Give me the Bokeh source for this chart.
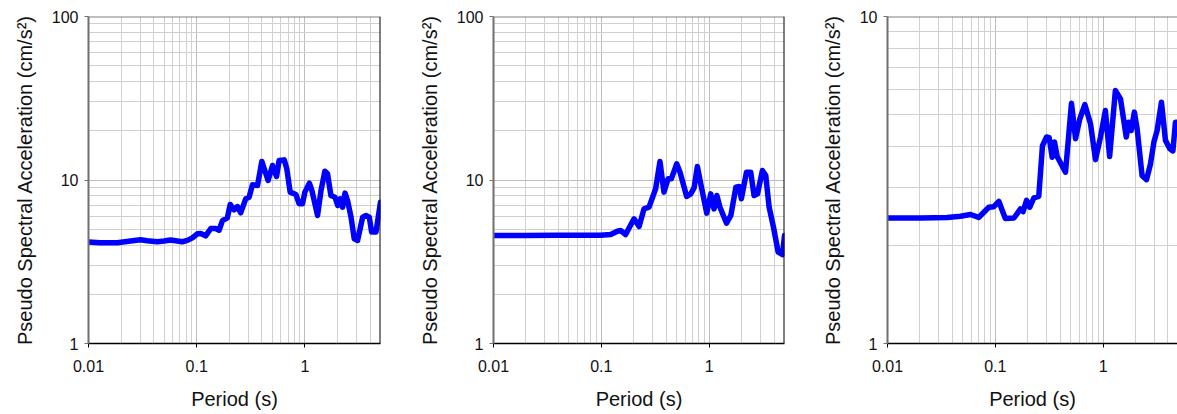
from bokeh.plotting import figure
from bokeh.layouts import row
from bokeh.models import FixedTicker, Span
from bokeh.embed import file_html
from bokeh.resources import INLINE

# ---------------- data ----------------
period_1 = [0.0100, 0.0129, 0.0184, 0.0245, 0.0303, 0.0349, 0.0432, 0.0499, 0.0574, 0.0639,
            0.0736, 0.0820, 0.0912, 0.1014, 0.109, 0.121, 0.135, 0.150, 0.161, 0.173,
            0.192, 0.204, 0.222, 0.238, 0.255, 0.284, 0.305, 0.328, 0.365, 0.400,
            0.457, 0.502, 0.547, 0.578, 0.644, 0.681, 0.731, 0.826, 0.886, 0.951,
            1.00, 1.10, 1.16, 1.31, 1.41, 1.53, 1.62, 1.74, 1.90, 2.01,
            2.12, 2.23, 2.35, 2.48, 2.67, 2.86, 3.07, 3.42, 3.67, 3.94,
            4.14, 4.54, 5.0]
psa_1 = [4.17, 4.13, 4.13, 4.23, 4.31, 4.25, 4.19, 4.23, 4.29, 4.25,
         4.19, 4.27, 4.43, 4.69, 4.71, 4.55, 5.05, 5.05, 4.93, 5.65,
         5.87, 7.08, 6.57, 6.88, 6.30, 7.67, 7.85, 9.34, 9.26, 12.98,
         9.93, 12.27, 10.5, 13.16, 13.28, 11.7, 8.43, 8.15, 7.15, 7.15,
         8.43, 9.56, 8.63, 6.07, 8.63, 11.32, 10.91, 8.04, 7.85, 6.98,
         7.67, 6.82, 8.31, 7.49, 5.93, 4.37, 4.27, 5.93, 6.07, 5.93,
         4.80, 4.80, 7.32]

period_2 = [0.0100, 0.0191, 0.0390, 0.0795, 0.0985, 0.122, 0.141, 0.151, 0.168, 0.201,
            0.224, 0.249, 0.277, 0.319, 0.350, 0.381, 0.416, 0.446, 0.500, 0.537,
            0.619, 0.675, 0.725, 0.778, 0.836, 0.950, 1.035, 1.11, 1.18, 1.26,
            1.45, 1.59, 1.77, 1.90, 1.99, 2.22, 2.43, 2.61, 2.81, 3.12,
            3.35, 3.60, 3.95, 4.37, 4.79, 5.0]
psa_2 = [4.58, 4.58, 4.60, 4.60, 4.60, 4.64, 4.86, 4.91, 4.64, 5.79,
         5.19, 6.66, 6.82, 8.84, 12.98, 8.43, 10.16, 10.16, 12.56, 11.16,
         7.93, 8.23, 8.96, 12.09, 9.48, 6.27, 8.23, 6.66, 8.04, 6.82,
         5.44, 6.07, 9.04, 9.13, 7.67, 11.16, 11.16, 8.04, 8.23, 11.43,
         10.65, 6.82, 5.15, 3.62, 3.50, 4.58]

period_3 = [0.0100, 0.0202, 0.0358, 0.0475, 0.0589, 0.0703, 0.0783, 0.0871, 0.0969, 0.108,
            0.116, 0.124, 0.149, 0.160, 0.171, 0.181, 0.195, 0.209, 0.228, 0.253,
            0.274, 0.299, 0.316, 0.337, 0.354, 0.375, 0.408, 0.448, 0.509, 0.555,
            0.608, 0.677, 0.764, 0.850, 0.946, 1.05, 1.15, 1.30, 1.45, 1.64,
            1.73, 1.82, 1.95, 2.07, 2.30, 2.53, 2.75, 2.96, 3.17, 3.48,
            3.79, 4.16, 4.44, 4.69, 4.90]
psa_3 = [2.42, 2.42, 2.43, 2.45, 2.48, 2.43, 2.52, 2.61, 2.62, 2.72,
         2.55, 2.41, 2.42, 2.50, 2.58, 2.53, 2.74, 2.61, 2.79, 2.82,
         4.03, 4.28, 4.26, 3.71, 4.13, 3.73, 3.54, 3.34, 5.43, 4.23,
         4.86, 5.38, 4.70, 3.65, 4.28, 5.16, 3.73, 5.94, 5.60, 4.28,
         4.75, 4.48, 5.10, 4.53, 3.26, 3.17, 3.54, 4.13, 4.48, 5.47,
         4.18, 3.94, 3.88, 4.75, 4.75]

x_ticks = [0.01, 0.1, 1]
x_tick_labels = ["0.01", "0.1", "1"]
y_ticks_100 = [1, 10, 100]
y_tick_labels_100 = ["1", "10", "100"]
y_ticks_10 = [1, 10]
y_tick_labels_10 = ["1", "10"]

x_label = "Period (s)"
y_label = "Pseudo Spectral Acceleration (cm/s\u00b2)"

FONT = "Liberation Sans"
LINE_COLOR = "#0000ff"


def minor_for(ticks):
    return [m * t for t in ticks[:-1] for m in range(2, 10)] + [m * ticks[-1] for m in range(2, 10)]


def make_panel(periods, psa, y_ticks, y_labels, y_end, x_end, width, border_left, border_right, right_edge):
    p = figure(width=width, height=414,
               x_axis_type="log", y_axis_type="log",
               x_range=(0.01, x_end), y_range=(1, y_end),
               output_backend="svg", toolbar_location=None,
               min_border_left=border_left, min_border_right=border_right,
               min_border_top=16, min_border_bottom=71,
               outline_line_color=None, background_fill_color="white",
               border_fill_color="white")

    xt = FixedTicker(ticks=x_ticks, minor_ticks=minor_for(x_ticks))
    yt = FixedTicker(ticks=y_ticks, minor_ticks=minor_for(y_ticks))

    xa = p.xaxis[0]
    ya = p.yaxis[0]
    xa.ticker = xt
    ya.ticker = yt
    p.xgrid[0].ticker = xt
    p.ygrid[0].ticker = yt

    xa.major_label_overrides = dict(zip(x_ticks, x_tick_labels))
    ya.major_label_overrides = dict(zip(y_ticks, y_labels))

    for ax in (xa, ya):
        ax.major_label_text_font = FONT
        ax.major_label_text_font_size = "16px"
        ax.major_label_text_color = "#111111"
        ax.axis_label_text_font = FONT
        ax.axis_label_text_font_size = "20px"
        ax.axis_label_text_font_style = "normal"
        ax.axis_label_text_color = "#111111"
        ax.minor_tick_line_color = None
        ax.major_tick_in = 0
        ax.major_tick_out = 4

    xa.axis_label = x_label
    xa.axis_line_color = "black"
    xa.axis_line_width = 1.5
    xa.major_tick_line_color = "black"
    xa.major_label_standoff = 12
    xa.axis_label_standoff = 13

    ya.axis_label = y_label
    ya.axis_line_color = "#707070"
    ya.axis_line_width = 2
    ya.major_tick_line_color = "#707070"
    ya.major_label_standoff = 6
    ya.axis_label_standoff = 13

    for g in (p.xgrid[0], p.ygrid[0]):
        g.grid_line_color = "#bdbdbd"
        g.grid_line_width = 1
        g.minor_grid_line_color = "#d0d0d0"
        g.minor_grid_line_width = 1

    p.add_layout(Span(location=y_end, dimension="width", line_color="#808080", line_width=2))
    if right_edge:
        p.add_layout(Span(location=x_end, dimension="height", line_color="black", line_width=2))

    p.line(periods, psa, line_color=LINE_COLOR, line_width=5.5, line_join="round", line_cap="round")
    return p


p1 = make_panel(period_1, psa_1, y_ticks_100, y_tick_labels_100, 100, 5.0, 413, 88, 33, True)
p2 = make_panel(period_2, psa_2, y_ticks_100, y_tick_labels_100, 100, 5.0, 394, 80, 23, True)
p3 = make_panel(period_3, psa_3, y_ticks_10, y_tick_labels_10, 10, 4.90, 370, 80, 0, False)

layout = row(p1, p2, p3)

open("out.html", "w").write(file_html(layout, INLINE))
